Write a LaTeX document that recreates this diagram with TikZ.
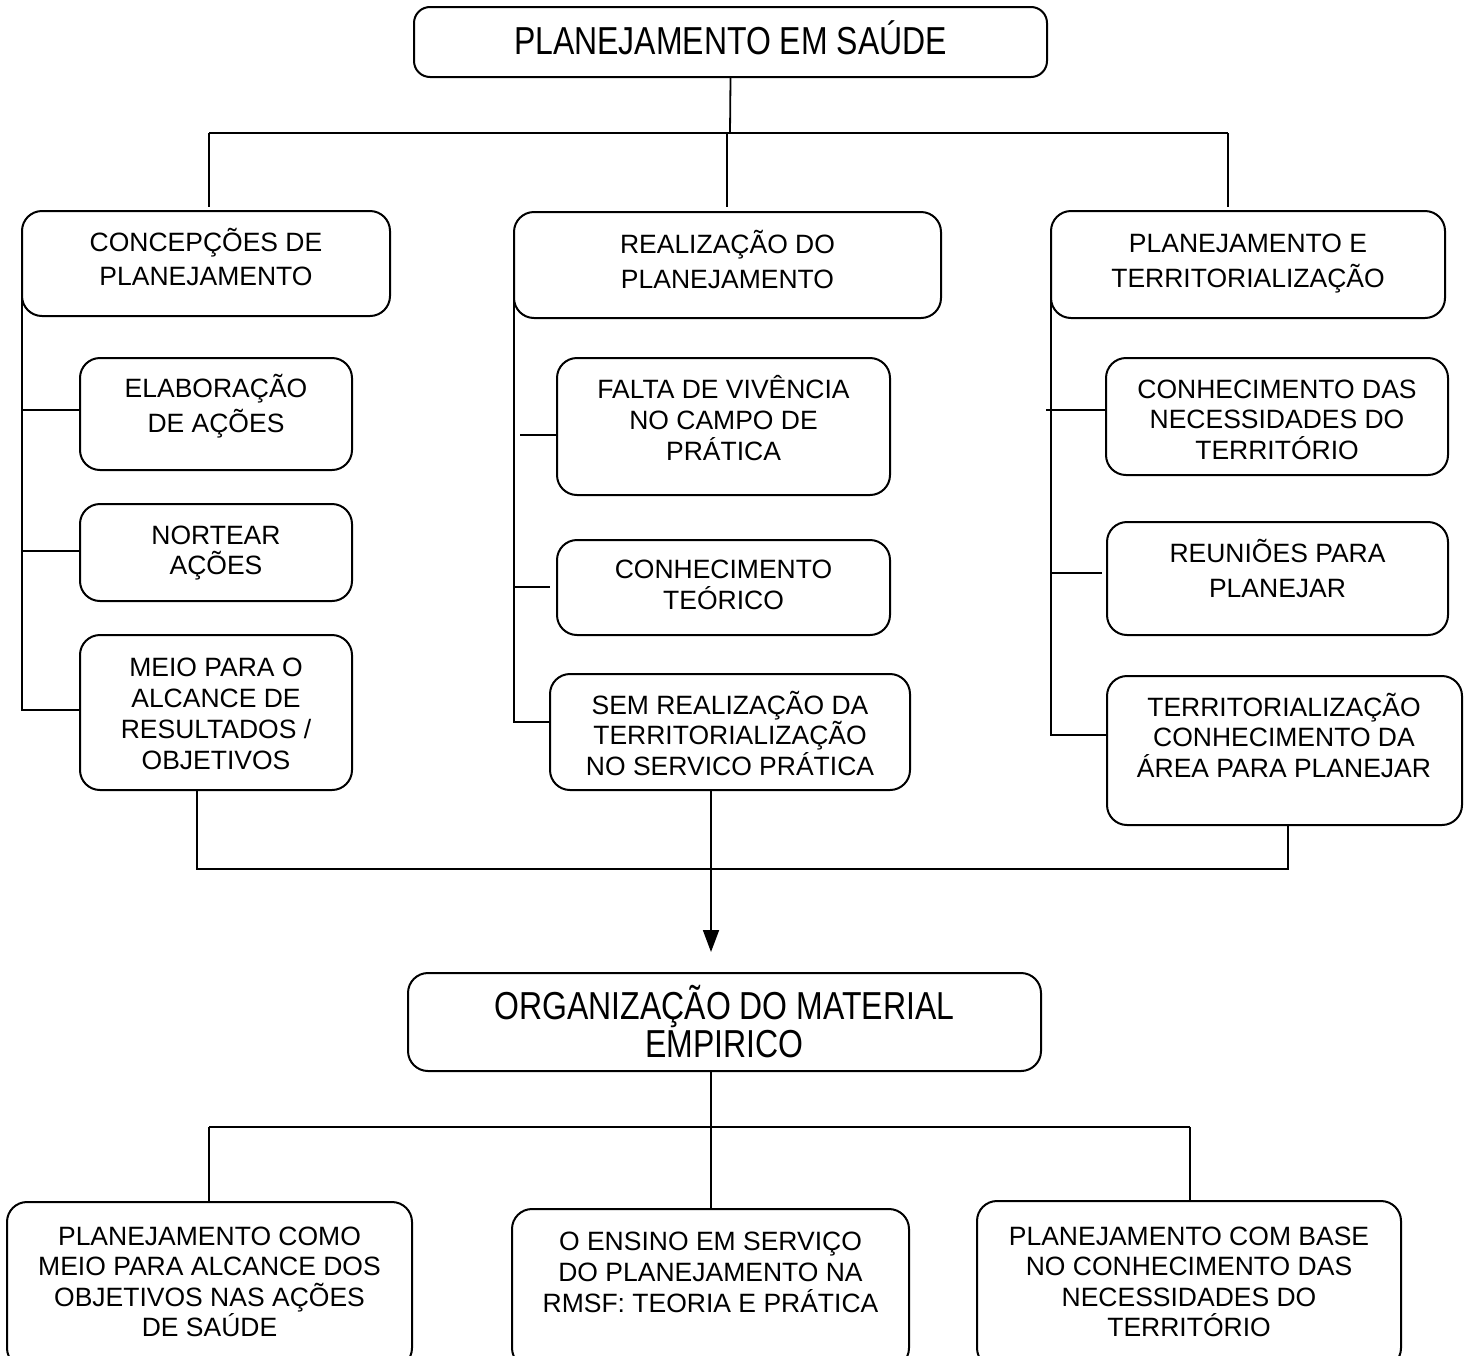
\documentclass[tikz,border=0pt]{standalone}
\usepackage{fontspec}
\setmainfont{Liberation Sans}
\newfontfamily\narrowfont[FakeStretch=0.82]{Liberation Sans}
\usetikzlibrary{fit,arrows.meta}
\newcommand\regtxt[1]{\fontsize{13.25pt}{#1}\selectfont}
\newcommand\nartxt[1]{\narrowfont\fontsize{19.5pt}{#1}\selectfont}
\tikzset{
  box/.style={draw, line width=1pt, rounded corners=10pt, inner sep=0pt},
  conn/.style={line width=0.9pt},
  txt/.style={align=center, inner sep=0pt,
    execute at begin node={\rule{0pt}{0.95em}},
    execute at end node={\rule[-0.25em]{0pt}{0.25em}}},
}
\begin{document}
\begin{tikzpicture}[x=0.5pt,y=-0.5pt]
\useasboundingbox (0,0) rectangle (1470,1355);
\clip (0,0) rectangle (1470,1355);

% ---- boxes ----
\node[box, rounded corners=8pt, fit={(414,7)(1047,77)}] (top) {};
\node[txt, font=\nartxt{20pt}] (top-t) at (730.5,41) {PLANEJAMENTO EM SAÚDE};

\node[box, fit={(22,211)(390,316)}] (c1) {};
\node[txt, font=\regtxt{17pt}] (c1-t) at (206,260) {CONCEPÇÕES DE\\PLANEJAMENTO};
\node[box, fit={(514,212)(941,318)}] (c2) {};
\node[txt, font=\regtxt{17.5pt}] (c2-t) at (727.5,262.5) {REALIZAÇÃO DO\\PLANEJAMENTO};
\node[box, fit={(1051,211)(1445,318)}] (c3) {};
\node[txt, font=\regtxt{17.5pt}] (c3-t) at (1248,264) {PLANEJAMENTO E\\TERRITORIALIZAÇÃO};

\node[box, fit={(80,358)(352,470)}] (e1) {};
\node[txt, font=\regtxt{17.5pt}] (e1-t) at (216,406.5) {ELABORAÇÃO\\DE AÇÕES};
\node[box, fit={(80,504)(352,601)}] (e2) {};
\node[txt, font=\regtxt{15pt}] (e2-t) at (216,553.5) {NORTEAR\\AÇÕES};
\node[box, fit={(80,635)(352,790)}] (e3) {};
\node[txt, font=\regtxt{15.5pt}] (e3-t) at (216,717) {MEIO PARA O\\ALCANCE DE\\RESULTADOS /\\OBJETIVOS};

\node[box, fit={(557,358)(890,495)}] (f1) {};
\node[txt, font=\regtxt{15.5pt}] (f1-t) at (723.5,421) {FALTA DE VIVÊNCIA\\NO CAMPO DE\\PRÁTICA};
\node[box, fit={(557,540)(890,635)}] (f2) {};
\node[txt, font=\regtxt{15.5pt}] (f2-t) at (723.5,588) {CONHECIMENTO\\TEÓRICO};
\node[box, fit={(550,674)(910,790)}] (f3) {};
\node[txt, font=\regtxt{15.25pt}] (f3-t) at (730,736.5) {SEM REALIZAÇÃO DA\\TERRITORIALIZAÇÃO\\NO SERVICO PRÁTICA};

\node[box, fit={(1106,358)(1448,475)}] (r1) {};
\node[txt, font=\regtxt{15.25pt}] (r1-t) at (1277,423) {CONHECIMENTO DAS\\NECESSIDADES DO\\TERRITÓRIO};
\node[box, fit={(1107,522)(1448,635)}] (r2) {};
\node[txt, font=\regtxt{17.5pt}] (r2-t) at (1277.5,571.5) {REUNIÕES PARA\\PLANEJAR};
\node[box, fit={(1107,676)(1462,825)}] (r3) {};
\node[txt, font=\regtxt{15.25pt}] (r3-t) at (1284,738.5) {TERRITORIALIZAÇÃO\\CONHECIMENTO DA\\ÁREA PARA PLANEJAR};

\node[box, fit={(408,973)(1041,1071)}] (org) {};
\node[txt, font=\nartxt{17.5pt}] (org-t) at (724.5,1026) {ORGANIZAÇÃO DO MATERIAL\\EMPIRICO};

\node[box, fit={(7,1202)(412,1368)}] (b1) {};
\node[txt, font=\regtxt{15.25pt}] (b1-t) at (209.5,1285) {PLANEJAMENTO COMO\\MEIO PARA ALCANCE DOS\\OBJETIVOS NAS AÇÕES\\DE SAÚDE};
\node[box, fit={(512,1209)(909,1368)}] (b2) {};
\node[txt, font=\regtxt{15.5pt}] (b2-t) at (710.5,1276) {O ENSINO EM SERVIÇO\\DO PLANEJAMENTO NA\\RMSF: TEORIA E PRÁTICA};
\node[box, fit={(977,1201)(1401,1368)}] (b3) {};
\node[txt, font=\regtxt{15.25pt}] (b3-t) at (1189,1285) {PLANEJAMENTO COM BASE\\NO CONHECIMENTO DAS\\NECESSIDADES DO\\TERRITÓRIO};

% ---- top tree ----
\coordinate (hub) at (730,133);
\coordinate (hL) at (209,133);
\coordinate (hR) at (1228,133);
\coordinate (hM) at (727,133);
\coordinate (dL) at (209,207);
\coordinate (dM) at (727,207);
\coordinate (dR) at (1228,207);
\draw[conn] (top.south) -- (hub);
\draw[conn] (hL) -- (hR);
\draw[conn] (hL) -- (dL);
\draw[conn] (hM) -- (dM);
\draw[conn] (hR) -- (dR);

% ---- left column ----
\coordinate (lt0) at (22,295);
\coordinate (lt1) at (22,710);
\coordinate (lb1) at (22,410);
\coordinate (lb2) at (22,551);
\draw[conn] (lt0) -- (lt1) -- (e3.west |- lt1);
\draw[conn] (lb1) -- (e1.west |- lb1);
\draw[conn] (lb2) -- (e2.west |- lb2);

% ---- middle column ----
\coordinate (mt0) at (514,257);
\coordinate (mt1) at (514,722);
\coordinate (mb1) at (520,435);
\coordinate (mb2) at (514,587);
\coordinate (mb2e) at (550,587);
\draw[conn] (mt0) -- (mt1) -- (f3.west |- mt1);
\draw[conn] (mb1) -- (f1.west |- mb1);
\draw[conn] (mb2) -- (mb2e);

% ---- right column ----
\coordinate (rt0) at (1051,268);
\coordinate (rt1) at (1051,735);
\coordinate (rb1) at (1046,410);
\coordinate (rb2) at (1051,573);
\coordinate (rb2e) at (1102,573);
\draw[conn] (rt0) -- (rt1) -- (r3.west |- rt1);
\draw[conn] (rb1) -- (r1.west |- rb1);
\draw[conn] (rb2) -- (rb2e);

% ---- collector and arrow ----
\coordinate (k0) at (197,869);
\coordinate (k1) at (1288,869);
\draw[conn] (e3.south -| k0) -- (k0) -- (k1) -- (r3.south -| k1);
\coordinate (ar) at (711,952);
\draw[conn, -{Triangle[length=11pt,width=8pt]}] (f3.south -| ar) -- (ar);

% ---- lower tree ----
\coordinate (lh) at (711,1127);
\coordinate (lhL) at (209,1127);
\coordinate (lhR) at (1190,1127);
\draw[conn] (org.south -| lh) -- (b2.north -| lh);
\draw[conn] (lhL) -- (lhR);
\draw[conn] (lhL) -- (b1.north -| lhL);
\draw[conn] (lhR) -- (b3.north -| lhR);
\end{tikzpicture}
\end{document}
